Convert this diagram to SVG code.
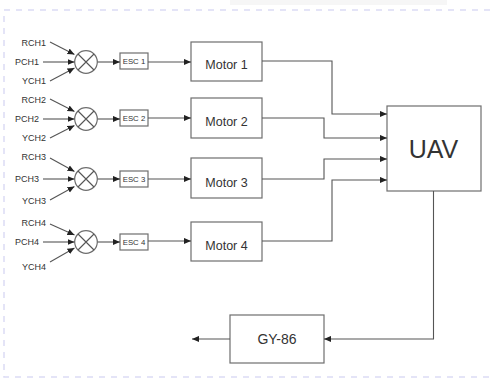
<svg xmlns="http://www.w3.org/2000/svg" width="494" height="378" viewBox="0 0 494 378">
<defs>
<marker id="ah" viewBox="0 0 8 8" refX="8" refY="4" markerWidth="7" markerHeight="7" markerUnits="userSpaceOnUse" orient="auto">
<path d="M0,0.5 L8,4 L0,7.5 Z" fill="#222"/>
</marker>
</defs>
<style>
.bx{fill:#fff;stroke:#6e6e6e;stroke-width:1.2}
.ln{fill:none;stroke:#555;stroke-width:1.1}
.arr{fill:none;stroke:#555;stroke-width:1.1;marker-end:url(#ah)}
.lbl{font-family:"Liberation Sans",Arial,sans-serif;font-size:9px;fill:#333}
.esc{font-family:"Liberation Sans",Arial,sans-serif;font-size:7.8px;fill:#333;text-anchor:middle}
.mt{font-family:"Liberation Sans",Arial,sans-serif;font-size:12.5px;fill:#333;text-anchor:middle}
.frame{fill:none;stroke:#dcdcf5;stroke-width:1.5;stroke-dasharray:6 6}
</style>
<rect x="0" y="0" width="494" height="378" fill="#fff"/>
<rect x="230" y="0" width="217" height="5" fill="#f6f6f6"/>
<path class="frame" d="M490,10 H4 V377 H494"/>

<g id="inputs1">
<text class="lbl" x="46" y="46" text-anchor="end">RCH1</text>
<text class="lbl" x="39" y="65" text-anchor="end">PCH1</text>
<text class="lbl" x="46" y="84" text-anchor="end">YCH1</text>
</g>
<g id="inputs2">
<text class="lbl" x="46" y="103" text-anchor="end">RCH2</text>
<text class="lbl" x="39" y="122" text-anchor="end">PCH2</text>
<text class="lbl" x="46" y="141" text-anchor="end">YCH2</text>
</g>
<g id="inputs3">
<text class="lbl" x="46" y="160" text-anchor="end">RCH3</text>
<text class="lbl" x="39" y="182" text-anchor="end">PCH3</text>
<text class="lbl" x="46" y="204" text-anchor="end">YCH3</text>
</g>
<g id="inputs4">
<text class="lbl" x="46" y="226" text-anchor="end">RCH4</text>
<text class="lbl" x="39" y="245" text-anchor="end">PCH4</text>
<text class="lbl" x="46" y="270" text-anchor="end">YCH4</text>
</g>

<g id="mixer1"><circle cx="86" cy="62" r="11.3" class="bx"/><path class="ln" d="M78,54 L94,70 M94,54 L78,70"/></g>
<g id="mixer2"><circle cx="86" cy="119" r="11.3" class="bx"/><path class="ln" d="M78,111 L94,127 M94,111 L78,127"/></g>
<g id="mixer3"><circle cx="86" cy="179" r="11.3" class="bx"/><path class="ln" d="M78,171 L94,187 M94,171 L78,187"/></g>
<g id="mixer4"><circle cx="86" cy="242" r="11.3" class="bx"/><path class="ln" d="M78,234 L94,250 M94,234 L78,250"/></g>

<g id="esc1"><rect class="bx" x="120" y="53" width="28" height="16"/><text class="esc" x="134" y="64">ESC 1</text></g>
<g id="esc2"><rect class="bx" x="120" y="110" width="28" height="16"/><text class="esc" x="134" y="121">ESC 2</text></g>
<g id="esc3"><rect class="bx" x="120" y="171" width="28" height="16"/><text class="esc" x="134" y="182">ESC 3</text></g>
<g id="esc4"><rect class="bx" x="120" y="234" width="28" height="16"/><text class="esc" x="134" y="245">ESC 4</text></g>

<g id="motor1"><rect class="bx" x="191" y="42" width="71" height="39"/><text class="mt" x="226.5" y="69">Motor 1</text></g>
<g id="motor2"><rect class="bx" x="191" y="98" width="71" height="40"/><text class="mt" x="226.5" y="126">Motor 2</text></g>
<g id="motor3"><rect class="bx" x="191" y="158" width="71" height="40"/><text class="mt" x="226.5" y="187">Motor 3</text></g>
<g id="motor4"><rect class="bx" x="191" y="222" width="71" height="39"/><text class="mt" x="226.5" y="250">Motor 4</text></g>

<g id="uav"><rect class="bx" x="387" y="106" width="94" height="85"/><text x="433.5" y="158" text-anchor="middle" font-family="'Liberation Sans',Arial,sans-serif" font-size="25" fill="#333">UAV</text></g>
<g id="gy86"><rect class="bx" x="230" y="315" width="94" height="48"/><text x="277" y="344" text-anchor="middle" font-family="'Liberation Sans',Arial,sans-serif" font-size="14" fill="#333">GY-86</text></g>

<g id="connectors">
<path class="arr" d="M50,42 L74.5,54.5"/>
<path class="arr" d="M43,62 L74.5,62"/>
<path class="arr" d="M50,81 L74.5,68"/>
<path class="arr" d="M50,99 L74.5,111.5"/>
<path class="arr" d="M43,119 L74.5,119"/>
<path class="arr" d="M50,138 L74.5,125.5"/>
<path class="arr" d="M50,158 L74.5,171.5"/>
<path class="arr" d="M43,179 L74.5,179"/>
<path class="arr" d="M50,200 L74.5,186.5"/>
<path class="arr" d="M50,224 L74.5,235"/>
<path class="arr" d="M43,242 L74.5,242"/>
<path class="arr" d="M50,262 L74.5,248"/>

<path class="arr" d="M97.5,62 H120"/>
<path class="arr" d="M97.5,119 H120"/>
<path class="arr" d="M97.5,179 H120"/>
<path class="arr" d="M97.5,242 H120"/>

<path class="arr" d="M148,62 H191"/>
<path class="arr" d="M148,118 H191"/>
<path class="arr" d="M148,179 H191"/>
<path class="arr" d="M148,241 H191"/>

<path class="arr" d="M262,61 H332 V114 H387"/>
<path class="arr" d="M262,118 H324 V138 H387"/>
<path class="arr" d="M262,179 H324 V159 H387"/>
<path class="arr" d="M262,241 H332 V180 H387"/>

<path class="arr" d="M433.5,191 V339 H324"/>
<path class="arr" d="M230,339 H192"/>
</g>
</svg>
